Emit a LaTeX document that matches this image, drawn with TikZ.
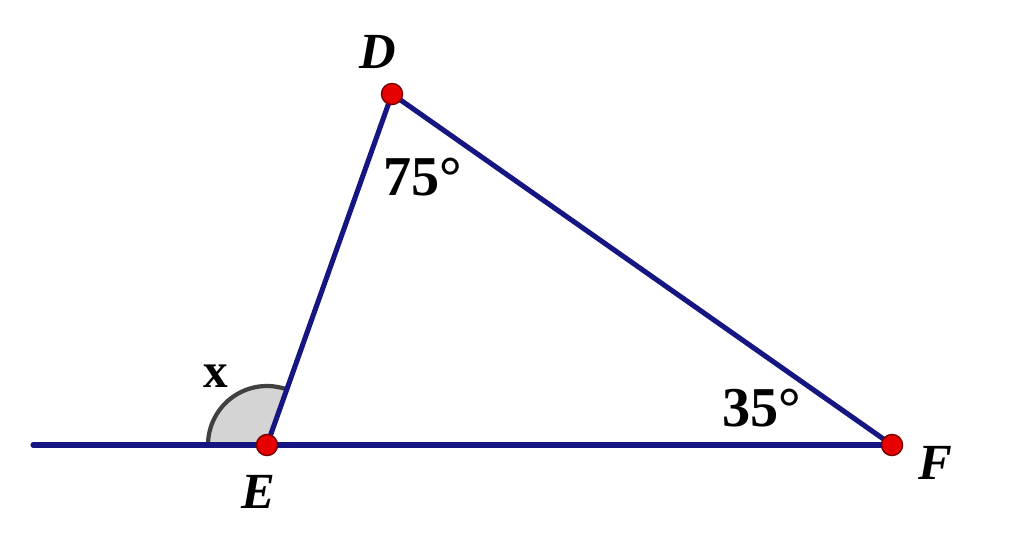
\documentclass[tikz,border=0pt]{standalone}
\usepackage{fontspec}
\setmainfont{Liberation Serif}
\definecolor{navy}{RGB}{22,22,130}
\definecolor{ptred}{RGB}{230,0,0}
\definecolor{ptdark}{RGB}{120,0,0}
\definecolor{sector}{RGB}{212,212,212}
\begin{document}
\begin{tikzpicture}[x=0.025cm,y=-0.025cm,
  seg/.style={navy,line width=3.6pt,line cap=round},
  pt/.style={circle,fill=ptred,draw=ptdark,line width=1pt,minimum size=15pt,inner sep=0pt},
  lbl/.style={font=\fontsize{36}{40}\selectfont\bfseries\itshape,inner sep=0pt},
  ang/.style={font=\fontsize{40}{44}\selectfont\bfseries,inner sep=0pt},
  xlbl/.style={font=\fontsize{35}{40}\selectfont\bfseries,inner sep=0pt}]
\useasboundingbox (0,0) rectangle (1024,543);
\coordinate (D) at (392,94);
\coordinate (E) at (267,445);
\coordinate (F) at (892,445);
\coordinate (L) at (33,445);
% angle sector
\fill[sector] (E) -- (208,445) arc[start angle=180,end angle=289.6,radius=59] -- cycle;
\draw[black!75,line width=3pt] (208,445) arc[start angle=180,end angle=289.6,radius=59];
\draw[seg] (L) -- (F);
\draw[seg] (E) -- (D) -- (F);
\node[pt] (pD) at (D) {};
\node[pt] (pE) at (E) {};
\node[pt] (pF) at (F) {};
\node[lbl] (lD) at (378,52) {D};
\node[lbl] (lE) at (258,492) {E};
\node[lbl] (lF) at (935,463) {F};
\node[xlbl] (lx) at (216,376) {x};
\node[ang] (a75) at (423,177) {75°};
\node[ang] (a35) at (762,408) {35°};
\end{tikzpicture}
\end{document}
